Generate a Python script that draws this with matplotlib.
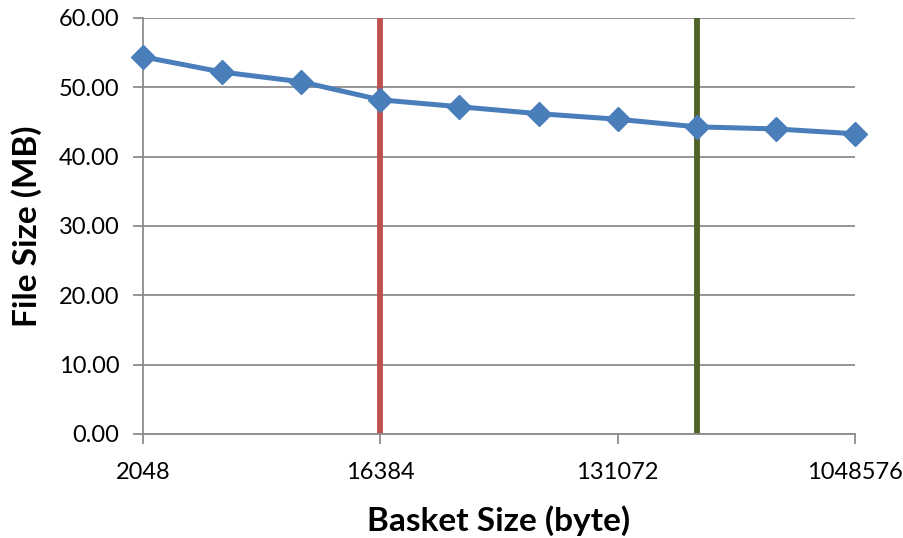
import matplotlib
matplotlib.use("Agg")
import matplotlib.pyplot as plt
from matplotlib.ticker import FixedLocator, NullLocator, FuncFormatter

plt.rcParams['font.family'] = ['Lato', 'DejaVu Sans']

basket_sizes = [2048, 4096, 8192, 16384, 32768, 65536, 131072, 262144, 524288, 1048576]
file_sizes = [54.4, 52.2, 50.8, 48.2, 47.2, 46.2, 45.4, 44.3, 44.0, 43.3]
xtick_values = [2048, 16384, 131072, 1048576]
ytick_values = [0, 10, 20, 30, 40, 50, 60]
red_marker_x = 16384
green_marker_x = 262144

fig = plt.figure(figsize=(9.04, 5.38), dpi=100)
ax = fig.add_axes([143/904, 1 - 434/538, (855-143)/904, (434-18)/538])

ax.set_xscale('log', base=2)
ax.set_xlim(2048, 1048576)
ax.set_ylim(0, 60)

for y in ytick_values:
    ax.axhline(y, color='#8c8c8c', lw=1.3, zorder=0)

ax.axvline(red_marker_x, color='#C0504D', lw=4.2, zorder=2)
ax.axvline(green_marker_x, color='#4F6228', lw=4.2, zorder=2)

ax.plot(basket_sizes, file_sizes, color='#4A7EBB', lw=3.6, marker='D',
        markersize=12, markeredgecolor='#4A7EBB', markerfacecolor='#4A7EBB', zorder=3,
        clip_on=False)

ax.xaxis.set_major_locator(FixedLocator(xtick_values))
ax.xaxis.set_minor_locator(NullLocator())
ax.xaxis.set_major_formatter(FuncFormatter(lambda v, p: f"{int(round(v))}"))
ax.yaxis.set_major_locator(FixedLocator(ytick_values))
ax.yaxis.set_major_formatter(FuncFormatter(lambda v, p: f"{v:.2f}"))

for s in ['top', 'right']:
    ax.spines[s].set_visible(False)
for s in ['left', 'bottom']:
    ax.spines[s].set_color('#8c8c8c')
    ax.spines[s].set_linewidth(1.3)

ax.tick_params(axis='both', which='major', direction='out', length=7, color='#8c8c8c',
               width=1.3, labelsize=17, labelcolor='black')
ax.tick_params(axis='x', pad=13)
ax.tick_params(axis='y', pad=10)

ax.set_xlabel('Basket Size (byte)', fontsize=24, fontweight='bold', labelpad=16)
ax.set_ylabel('File Size (MB)', fontsize=24, fontweight='bold', labelpad=12)

fig.savefig('out.png', dpi=100)
